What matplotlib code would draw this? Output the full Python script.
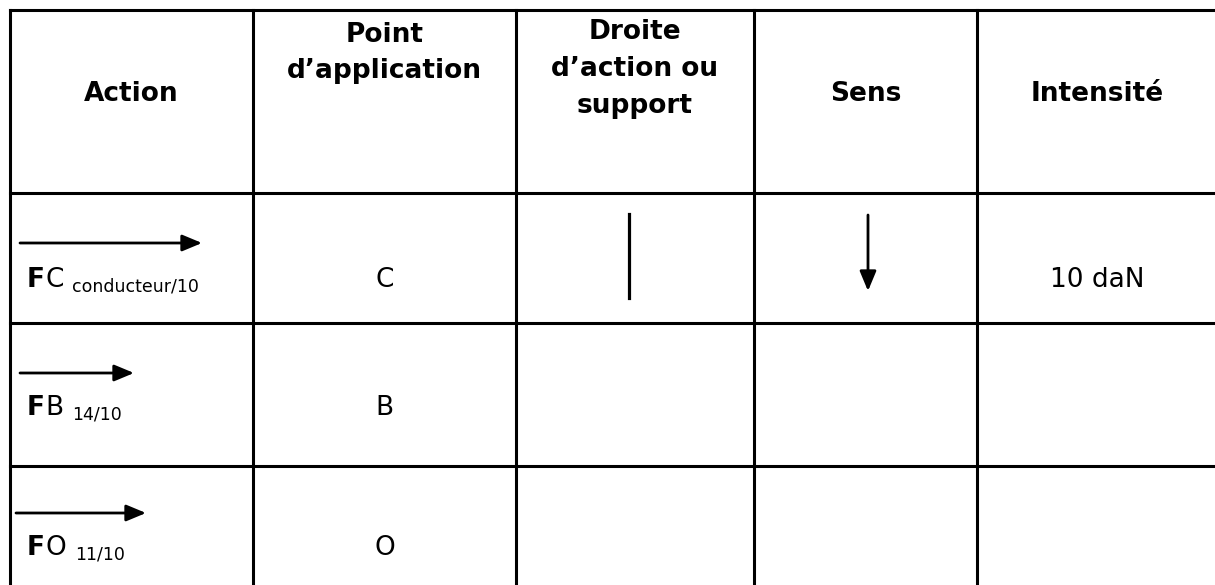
import matplotlib
matplotlib.use("Agg")
import matplotlib.pyplot as plt

# Table content
headers = ["Action", "Point\nd\u2019application", "Droite\nd\u2019action ou\nsupport", "Sens", "Intensit\u00e9"]
action_main = ["C", "B", "O"]
action_sub = ["conducteur/10", "14/10", "11/10"]
points = ["C", "B", "O"]
intensities = ["10 daN", "", ""]
has_support = [True, False, False]
has_sens = [True, False, False]

# Layout (pixels)
col_edges = [10, 253, 516, 754, 977, 1217]
row_edges = [10, 193, 323, 466, 609]
header_baselines = {1: [101], 2: [42, 78], 3: [39, 76, 113]}
row_baselines = [287, 415, 555]
arrow_y = [243, 373, 513]
arrow_x = [(20, 202), (20, 134), (16, 146)]

FONT = "DejaVu Sans"
BIG = 19
SMALL = 12.5

fig = plt.figure(figsize=(12.15, 5.85), dpi=100)
ax = fig.add_axes([0, 0, 1, 1])
ax.set_xlim(0, 1215)
ax.set_ylim(585, 0)
ax.axis("off")

# grid lines
for x in col_edges:
    ax.plot([x, x], [row_edges[0], row_edges[-1]], color="black", lw=2.2, solid_capstyle="projecting")
for y in row_edges:
    ax.plot([col_edges[0], col_edges[-1]], [y, y], color="black", lw=2.2, solid_capstyle="projecting")

# header
for i, h in enumerate(headers):
    cx = (col_edges[i] + col_edges[i + 1]) / 2
    lines = h.split("\n")
    for line, yb in zip(lines, header_baselines[len(lines)]):
        ax.text(cx, yb, line, ha="center", va="baseline", fontsize=BIG,
                fontweight="bold", family=FONT)

def arrow(ax, x0, y0, x1, y1):
    ax.annotate("", xy=(x1, y1), xytext=(x0, y0),
                arrowprops=dict(arrowstyle="-|>,head_length=1.2,head_width=0.5",
                                mutation_scale=10, lw=2.0, color="black",
                                shrinkA=0, shrinkB=0))

for r in range(3):
    yb = row_baselines[r]
    # action column
    x0, x1 = arrow_x[r]
    arrow(ax, x0, arrow_y[r], x1, arrow_y[r])
    t1 = ax.text(27, yb, "F", ha="left", va="baseline", fontsize=BIG,
                 fontweight="bold", family=FONT)
    t2 = ax.annotate(action_main[r], xy=(1, 0), xycoords=t1, xytext=(0.5, 0),
                     textcoords="offset points", ha="left", va="bottom",
                     fontsize=BIG, family=FONT)
    ax.annotate(action_sub[r], xy=(1, 0), xycoords=t2, xytext=(6, -1.5),
                textcoords="offset points", ha="left", va="bottom",
                fontsize=SMALL, family=FONT)
    # point d'application
    cx = (col_edges[1] + col_edges[2]) / 2
    ax.text(cx, yb, points[r], ha="center", va="baseline", fontsize=BIG, family=FONT)
    # support
    if has_support[r]:
        ax.plot([629, 629], [214, 298], color="black", lw=2.3)
    # sens
    if has_sens[r]:
        arrow(ax, 868, 215, 868, 291)
    # intensity
    cx = (col_edges[4] + col_edges[5]) / 2
    ax.text(cx, yb, intensities[r], ha="center", va="baseline", fontsize=BIG, family=FONT)

fig.savefig("out.png", dpi=100, facecolor="white")
